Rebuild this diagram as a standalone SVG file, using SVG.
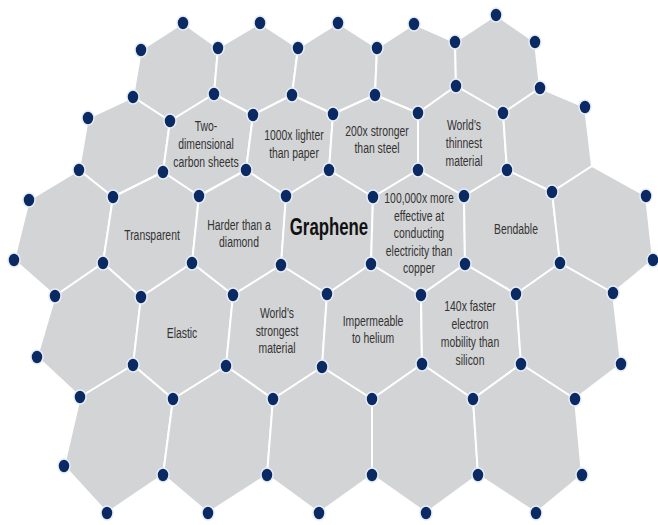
<svg xmlns="http://www.w3.org/2000/svg" width="658" height="525" viewBox="0 0 658 525">
  <style>
    .cell { fill: #d3d4d6; stroke: #ffffff; stroke-width: 2; stroke-linejoin: round; }
    .atom { fill: #0b2a63; stroke: #e6edf7; stroke-width: 1.5; }
    .lbl { font-family: "Liberation Sans", Arial, sans-serif; font-size: 13px; fill: #333333; text-anchor: middle; }
    .title { font-family: "Liberation Sans", Arial, sans-serif; font-size: 21px; font-weight: bold; fill: #111111; text-anchor: middle; }
  </style>
  <rect width="658" height="525" fill="#ffffff"/>

  <!-- Top row of cells -->
  <g id="cell-a1"><polygon class="cell" points="183,23 218,48 214,94 170,121 133,97 141,50"/></g>
  <g id="cell-a2"><polygon class="cell" points="260,23 298,48 292,95 253,115 214,94 218,48"/></g>
  <g id="cell-a3"><polygon class="cell" points="338,23 377,48 375,95 333,114 292,95 298,48"/></g>
  <g id="cell-a4"><polygon class="cell" points="414,24 455,42 456,86 418,113 375,95 377,48"/></g>
  <g id="cell-a5"><polygon class="cell" points="496,15 535,42 540,88 503,113 456,86 455,42"/></g>

  <!-- Second row; labels are narrowed horizontally to a condensed face -->
  <g id="cell-b0"><polygon class="cell" points="133,97 170,121 163,172 113,197 79,170 88,118"/></g>
  <g id="two-dimensional">
    <polygon class="cell" points="214,94 253,115 246,170 199,196 163,172 170,121"/>
    <text class="lbl" transform="translate(206 131) scale(0.8 1.08)">Two-</text>
    <text class="lbl" transform="translate(206 149) scale(0.8 1.08)">dimensional</text>
    <text class="lbl" transform="translate(206 167) scale(0.8 1.08)">carbon sheets</text>
  </g>
  <g id="lighter">
    <polygon class="cell" points="292,95 333,114 329,170 286,196 246,170 253,115"/>
    <text class="lbl" transform="translate(294 140) scale(0.8 1.08)">1000x lighter</text>
    <text class="lbl" transform="translate(294 158) scale(0.8 1.08)">than paper</text>
  </g>
  <g id="stronger-than-steel">
    <polygon class="cell" points="375,95 418,113 418,170 373,197 329,170 333,114"/>
    <text class="lbl" transform="translate(377 136) scale(0.8 1.08)">200x stronger</text>
    <text class="lbl" transform="translate(377 153) scale(0.8 1.08)">than steel</text>
  </g>
  <g id="thinnest">
    <polygon class="cell" points="456,86 503,113 507,170 464,196 418,170 418,113"/>
    <text class="lbl" transform="translate(464 130) scale(0.8 1.08)">World's</text>
    <text class="lbl" transform="translate(464 148) scale(0.8 1.08)">thinnest</text>
    <text class="lbl" transform="translate(464 166) scale(0.8 1.08)">material</text>
  </g>
  <g id="cell-b5"><polygon class="cell" points="540,88 585,107 592,166 552,192 507,170 503,113"/></g>

  <!-- Middle row -->
  <g id="cell-c0"><polygon class="cell" points="79,170 113,197 103,263 55,296 14,260 29,200"/></g>
  <g id="transparent">
    <polygon class="cell" points="163,172 199,196 192,263 141,297 103,263 113,197"/>
    <text class="lbl" transform="translate(152 240) scale(0.8 1.08)">Transparent</text>
  </g>
  <g id="harder">
    <polygon class="cell" points="246,170 286,196 281,265 233,295 192,263 199,196"/>
    <text class="lbl" transform="translate(239 230) scale(0.8 1.08)">Harder than a</text>
    <text class="lbl" transform="translate(239 247) scale(0.8 1.08)">diamond</text>
  </g>
  <g id="graphene">
    <polygon class="cell" points="329,170 373,197 371,264 327,294 281,265 286,196"/>
    <text class="title" transform="translate(329 235) scale(0.8 1.1)">Graphene</text>
  </g>
  <g id="conductivity">
    <polygon class="cell" points="418,170 464,196 465,264 421,295 371,264 373,197"/>
    <text class="lbl" transform="translate(419 203) scale(0.8 1.08)">100,000x more</text>
    <text class="lbl" transform="translate(419 221) scale(0.8 1.08)">effective at</text>
    <text class="lbl" transform="translate(419 238) scale(0.8 1.08)">conducting</text>
    <text class="lbl" transform="translate(419 256) scale(0.8 1.08)">electricity than</text>
    <text class="lbl" transform="translate(419 273) scale(0.8 1.08)">copper</text>
  </g>
  <g id="bendable">
    <polygon class="cell" points="507,170 552,192 560,263 516,294 465,264 464,196"/>
    <text class="lbl" transform="translate(516 234) scale(0.8 1.08)">Bendable</text>
  </g>
  <g id="cell-c6"><polygon class="cell" points="592,166 646,196 653,260 613,293 560,263 552,192"/></g>

  <!-- Fourth row -->
  <g id="cell-d0"><polygon class="cell" points="103,263 141,297 133,365 80,397 37,357 55,296"/></g>
  <g id="elastic">
    <polygon class="cell" points="192,263 233,295 226,366 173,399 133,365 141,297"/>
    <text class="lbl" transform="translate(182 338) scale(0.8 1.08)">Elastic</text>
  </g>
  <g id="strongest">
    <polygon class="cell" points="281,265 327,294 322,367 273,399 226,366 233,295"/>
    <text class="lbl" transform="translate(277 318) scale(0.8 1.08)">World's</text>
    <text class="lbl" transform="translate(277 336) scale(0.8 1.08)">strongest</text>
    <text class="lbl" transform="translate(277 353) scale(0.8 1.08)">material</text>
  </g>
  <g id="impermeable">
    <polygon class="cell" points="371,264 421,295 422,364 372,399 322,367 327,294"/>
    <text class="lbl" transform="translate(373 326) scale(0.8 1.08)">Impermeable</text>
    <text class="lbl" transform="translate(373 343) scale(0.8 1.08)">to helium</text>
  </g>
  <g id="electron-mobility">
    <polygon class="cell" points="465,264 516,294 521,364 473,399 422,364 421,295"/>
    <text class="lbl" transform="translate(470 311) scale(0.8 1.08)">140x faster</text>
    <text class="lbl" transform="translate(470 329) scale(0.8 1.08)">electron</text>
    <text class="lbl" transform="translate(470 347) scale(0.8 1.08)">mobility than</text>
    <text class="lbl" transform="translate(470 365) scale(0.8 1.08)">silicon</text>
  </g>
  <g id="cell-d5"><polygon class="cell" points="560,263 613,293 621,364 575,399 521,364 516,294"/></g>

  <!-- Bottom row -->
  <g id="cell-e0"><polygon class="cell" points="133,365 173,399 163,475 107,513 64,466 80,397"/></g>
  <g id="cell-e1"><polygon class="cell" points="226,366 273,399 267,475 208,513 163,475 173,399"/></g>
  <g id="cell-e2"><polygon class="cell" points="322,367 372,399 372,475 319,513 267,475 273,399"/></g>
  <g id="cell-e3"><polygon class="cell" points="422,364 473,399 478,475 426,513 372,475 372,399"/></g>
  <g id="cell-e4"><polygon class="cell" points="521,364 575,399 582,475 536,513 478,475 473,399"/></g>

  <!-- Carbon atoms at the lattice vertices -->
  <g id="atoms">
    <ellipse class="atom" cx="183" cy="23" rx="6" ry="7"/>
    <ellipse class="atom" cx="260" cy="23" rx="6" ry="7"/>
    <ellipse class="atom" cx="338" cy="23" rx="6" ry="7"/>
    <ellipse class="atom" cx="414" cy="24" rx="6" ry="7"/>
    <ellipse class="atom" cx="496" cy="15" rx="6" ry="7"/>

    <ellipse class="atom" cx="141" cy="50" rx="6" ry="7"/>
    <ellipse class="atom" cx="218" cy="48" rx="6" ry="7"/>
    <ellipse class="atom" cx="298" cy="48" rx="6" ry="7"/>
    <ellipse class="atom" cx="377" cy="48" rx="6" ry="7"/>
    <ellipse class="atom" cx="455" cy="42" rx="6" ry="7"/>
    <ellipse class="atom" cx="535" cy="42" rx="6" ry="7"/>

    <ellipse class="atom" cx="133" cy="97" rx="6" ry="7"/>
    <ellipse class="atom" cx="214" cy="94" rx="6" ry="7"/>
    <ellipse class="atom" cx="292" cy="95" rx="6" ry="7"/>
    <ellipse class="atom" cx="375" cy="95" rx="6" ry="7"/>
    <ellipse class="atom" cx="456" cy="86" rx="6" ry="7"/>
    <ellipse class="atom" cx="540" cy="88" rx="6" ry="7"/>

    <ellipse class="atom" cx="88" cy="118" rx="6" ry="7"/>
    <ellipse class="atom" cx="170" cy="121" rx="6" ry="7"/>
    <ellipse class="atom" cx="253" cy="115" rx="6" ry="7"/>
    <ellipse class="atom" cx="333" cy="114" rx="6" ry="7"/>
    <ellipse class="atom" cx="418" cy="113" rx="6" ry="7"/>
    <ellipse class="atom" cx="503" cy="113" rx="6" ry="7"/>
    <ellipse class="atom" cx="585" cy="107" rx="6" ry="7"/>

    <ellipse class="atom" cx="79" cy="170" rx="6" ry="7"/>
    <ellipse class="atom" cx="163" cy="172" rx="6" ry="7"/>
    <ellipse class="atom" cx="246" cy="170" rx="6" ry="7"/>
    <ellipse class="atom" cx="329" cy="170" rx="6" ry="7"/>
    <ellipse class="atom" cx="418" cy="170" rx="6" ry="7"/>
    <ellipse class="atom" cx="507" cy="170" rx="6" ry="7"/>

    <ellipse class="atom" cx="29" cy="200" rx="6" ry="7"/>
    <ellipse class="atom" cx="113" cy="197" rx="6" ry="7"/>
    <ellipse class="atom" cx="199" cy="196" rx="6" ry="7"/>
    <ellipse class="atom" cx="286" cy="196" rx="6" ry="7"/>
    <ellipse class="atom" cx="373" cy="197" rx="6" ry="7"/>
    <ellipse class="atom" cx="464" cy="196" rx="6" ry="7"/>
    <ellipse class="atom" cx="552" cy="192" rx="6" ry="7"/>
    <ellipse class="atom" cx="646" cy="196" rx="6" ry="7"/>

    <ellipse class="atom" cx="14" cy="260" rx="6" ry="7"/>
    <ellipse class="atom" cx="103" cy="263" rx="6" ry="7"/>
    <ellipse class="atom" cx="192" cy="263" rx="6" ry="7"/>
    <ellipse class="atom" cx="281" cy="265" rx="6" ry="7"/>
    <ellipse class="atom" cx="371" cy="264" rx="6" ry="7"/>
    <ellipse class="atom" cx="465" cy="264" rx="6" ry="7"/>
    <ellipse class="atom" cx="560" cy="263" rx="6" ry="7"/>
    <ellipse class="atom" cx="653" cy="260" rx="6" ry="7"/>

    <ellipse class="atom" cx="55" cy="296" rx="6" ry="7"/>
    <ellipse class="atom" cx="141" cy="297" rx="6" ry="7"/>
    <ellipse class="atom" cx="233" cy="295" rx="6" ry="7"/>
    <ellipse class="atom" cx="327" cy="294" rx="6" ry="7"/>
    <ellipse class="atom" cx="421" cy="295" rx="6" ry="7"/>
    <ellipse class="atom" cx="516" cy="294" rx="6" ry="7"/>
    <ellipse class="atom" cx="613" cy="293" rx="6" ry="7"/>

    <ellipse class="atom" cx="37" cy="357" rx="6" ry="7"/>
    <ellipse class="atom" cx="133" cy="365" rx="6" ry="7"/>
    <ellipse class="atom" cx="226" cy="366" rx="6" ry="7"/>
    <ellipse class="atom" cx="322" cy="367" rx="6" ry="7"/>
    <ellipse class="atom" cx="422" cy="364" rx="6" ry="7"/>
    <ellipse class="atom" cx="521" cy="364" rx="6" ry="7"/>
    <ellipse class="atom" cx="621" cy="364" rx="6" ry="7"/>

    <ellipse class="atom" cx="80" cy="397" rx="6" ry="7"/>
    <ellipse class="atom" cx="173" cy="399" rx="6" ry="7"/>
    <ellipse class="atom" cx="273" cy="399" rx="6" ry="7"/>
    <ellipse class="atom" cx="372" cy="399" rx="6" ry="7"/>
    <ellipse class="atom" cx="473" cy="399" rx="6" ry="7"/>
    <ellipse class="atom" cx="575" cy="399" rx="6" ry="7"/>

    <ellipse class="atom" cx="64" cy="466" rx="6" ry="7"/>
    <ellipse class="atom" cx="163" cy="475" rx="6" ry="7"/>
    <ellipse class="atom" cx="267" cy="475" rx="6" ry="7"/>
    <ellipse class="atom" cx="372" cy="475" rx="6" ry="7"/>
    <ellipse class="atom" cx="478" cy="475" rx="6" ry="7"/>
    <ellipse class="atom" cx="582" cy="475" rx="6" ry="7"/>

    <ellipse class="atom" cx="107" cy="513" rx="6" ry="7"/>
    <ellipse class="atom" cx="208" cy="513" rx="6" ry="7"/>
    <ellipse class="atom" cx="319" cy="513" rx="6" ry="7"/>
    <ellipse class="atom" cx="426" cy="513" rx="6" ry="7"/>
    <ellipse class="atom" cx="536" cy="513" rx="6" ry="7"/>
  </g>
</svg>
